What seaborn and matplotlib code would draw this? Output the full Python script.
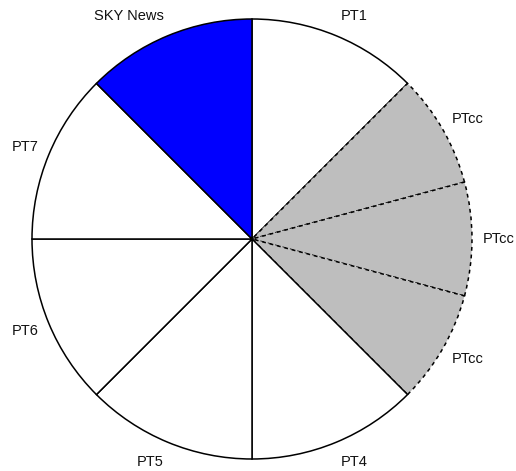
import numpy as np
import matplotlib
matplotlib.use("Agg")
import matplotlib.pyplot as plt
import seaborn as sns

# slices, clockwise from 12 o'clock
labels = ["PT1", "PTcc", "PTcc", "PTcc", "PT4", "PT5", "PT6", "PT7", "SKY News"]
sizes = [1.5, 1, 1, 1, 1.5, 1.5, 1.5, 1.5, 1.5]
fills = ["white", "#BEBEBE", "#BEBEBE", "#BEBEBE", "white", "white", "white", "white", "#0000FF"]
dashed = [False, True, True, True, False, False, False, False, False]

sns.set_style("white")
plt.rcParams["font.family"] = ["Liberation Sans", "DejaVu Sans"]

fig = plt.figure(figsize=(5.16, 4.71), dpi=100)
ax = fig.add_axes([0, 0, 1, 1])

wedges, _ = ax.pie(sizes, colors=fills, startangle=90, counterclock=False,
                   radius=1.0, center=(0, 0))
for w, d in zip(wedges, dashed):
    w.set_edgecolor("black")
    w.set_linewidth(1.1)
    if d:
        w.set_linestyle((0, (2.5, 2.5)))

# labels just outside the rim, aligned away from the centre
for w, lab in zip(wedges, labels):
    mid = np.deg2rad((w.theta1 + w.theta2) / 2)
    x = 1.05 * np.cos(mid)
    y = 1.095 * np.sin(mid)
    ha = "left" if x > 0 else "right"
    ax.text(x, y, lab, ha=ha, va="center", fontsize=10.5, color="#111111")

ax.set_aspect("auto")
ax.set_xlim(-252 / 220, (516 - 252) / 220)
ax.set_ylim(-(471 - 239) / 220, 239 / 220)
ax.axis("off")

fig.savefig("out.png", dpi=100, facecolor="white")
